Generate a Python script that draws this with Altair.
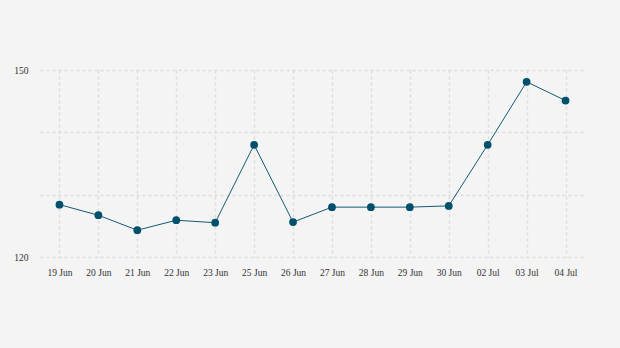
import altair as alt
import pandas as pd

dates = ["19 Jun", "20 Jun", "21 Jun", "22 Jun", "23 Jun", "25 Jun", "26 Jun",
         "27 Jun", "28 Jun", "29 Jun", "30 Jun", "02 Jul", "03 Jul", "04 Jul"]
values = [128.4, 126.7, 124.3, 125.9, 125.5, 138.0, 125.6,
          128.0, 128.0, 128.0, 128.2, 138.0, 148.1, 145.1]
y_ticks = [120, 130, 140, 150]

df = pd.DataFrame({"date": dates, "value": values})

x = alt.X("date:N", sort=dates, title=None,
          scale=alt.Scale(type="point", padding=0.5),
          axis=alt.Axis(labelAngle=0, ticks=False, domain=False, grid=True,
                        labelPadding=10, labelFont="Liberation Serif",
                        labelFontSize=9.5, labelColor="#333333",
                        gridColor="#dcdcdc", gridDash=[3, 3], gridWidth=1.5))
y = alt.Y("value:Q", title=None,
          scale=alt.Scale(domain=[120, 150], nice=False, zero=False),
          axis=alt.Axis(values=y_ticks, ticks=False, domain=False, grid=True,
                        labelExpr="datum.value == 120 || datum.value == 150 ? datum.label : ''",
                        labelPadding=12, labelFont="Liberation Serif",
                        labelFontSize=9.5, labelColor="#333333",
                        gridColor="#dcdcdc", gridDash=[3, 3], gridWidth=1.5))

base = alt.Chart(df).encode(x=x, y=y)
line = base.mark_line(color="#135b75", strokeWidth=1)
pts = base.mark_circle(color="#004f6b", size=60, opacity=1)

chart = (line + pts).properties(
    width=545, height=187,
    background="#f4f4f4",
    padding={"left": 40, "top": 70, "right": 35, "bottom": 91},
    autosize=alt.AutoSizeParams(type="none"),
).configure_view(stroke=None)

chart.save("out.html", embed_options={"renderer": "svg", "actions": False})
